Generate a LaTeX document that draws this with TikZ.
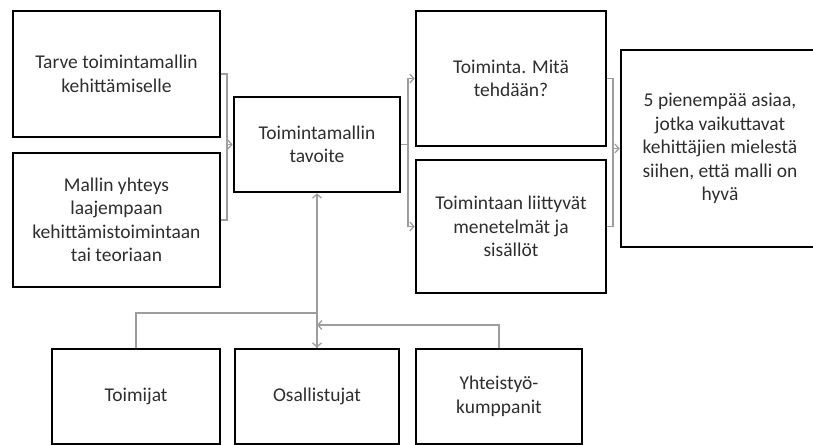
\documentclass[tikz,border=0pt]{standalone}
\usepackage{fontspec}
\setmainfont{Carlito}
\usetikzlibrary{arrows.meta}
\begin{document}
\begin{tikzpicture}[x=1pt,y=-1pt,
	box/.style={draw=black,line width=2.6pt,fill=white,align=center,inner sep=2pt,
		text=black!82,font=\fontsize{19.5}{23.5}\selectfont},
	link/.style={draw=black!38,line width=1.3pt,-{Straight Barb[length=4pt,width=9pt]}},
	line/.style={draw=black!38,line width=1.3pt}]
	\useasboundingbox (0,0) rectangle (813,444);
	\node[box,minimum width=207pt,minimum height=126pt] (tarve) at (116.5,74) {Tarve toimintamallin\\kehittämiselle};
	\node[box,minimum width=207pt,minimum height=134pt] (mallin) at (116.5,220) {Mallin yhteys\\laajempaan\\kehittämistoimintaan\\tai teoriaan};
	\node[box,minimum width=166pt,minimum height=95pt] (tavoite) at (317,144.5) {Toimintamallin\\tavoite};
	\node[box,minimum width=190pt,minimum height=135pt] (toiminta) at (511,78.5) {Toiminta. Mitä\\tehdään?};
	\node[box,minimum width=190pt,minimum height=133pt] (menet) at (511,226.5) {Toimintaan liittyvät\\menetelmät ja\\sisällöt};
	\node[box,minimum width=198pt,minimum height=197pt] (viisi) at (720,148.5) {5 pienempää asiaa,\\jotka vaikuttavat\\kehittäjien mielestä\\siihen, että malli on\\hyvä};
	\node[box,minimum width=168pt,minimum height=95pt] (toimijat) at (136,396.5) {Toimijat};
	\node[box,minimum width=164pt,minimum height=95pt] (osal) at (317,396.5) {Osallistujat};
	\node[box,minimum width=166pt,minimum height=95pt] (yhteis) at (499,396.5) {Yhteistyö-\\kumppanit};
	\coordinate (lj) at (227,144.5);
	\coordinate (rj) at (408,144.5);
	\coordinate (vj) at (613,148.5);
	\coordinate (bj) at (317,313);
	\coordinate (bk) at (317,325);
	\draw[line] (tarve.east) -| (lj);
	\draw[line] (mallin.east) -| (lj);
	\draw[link] (lj) -- (tavoite.west);
	\draw[line] (tavoite.east) -- (rj);
	\draw[link] (rj) |- (toiminta.west);
	\draw[link] (rj) |- (menet.west);
	\draw[line] (toiminta.east) -| (vj);
	\draw[line] (menet.east) -| (vj);
	\draw[link] (vj) -- (viisi.west);
	\draw[link] (toimijat.north) |- (bj) -- (osal.north);
	\draw[link] (yhteis.north) |- (bk);
	\draw[link] (osal.north) -- (tavoite.south);
\end{tikzpicture}
\end{document}
